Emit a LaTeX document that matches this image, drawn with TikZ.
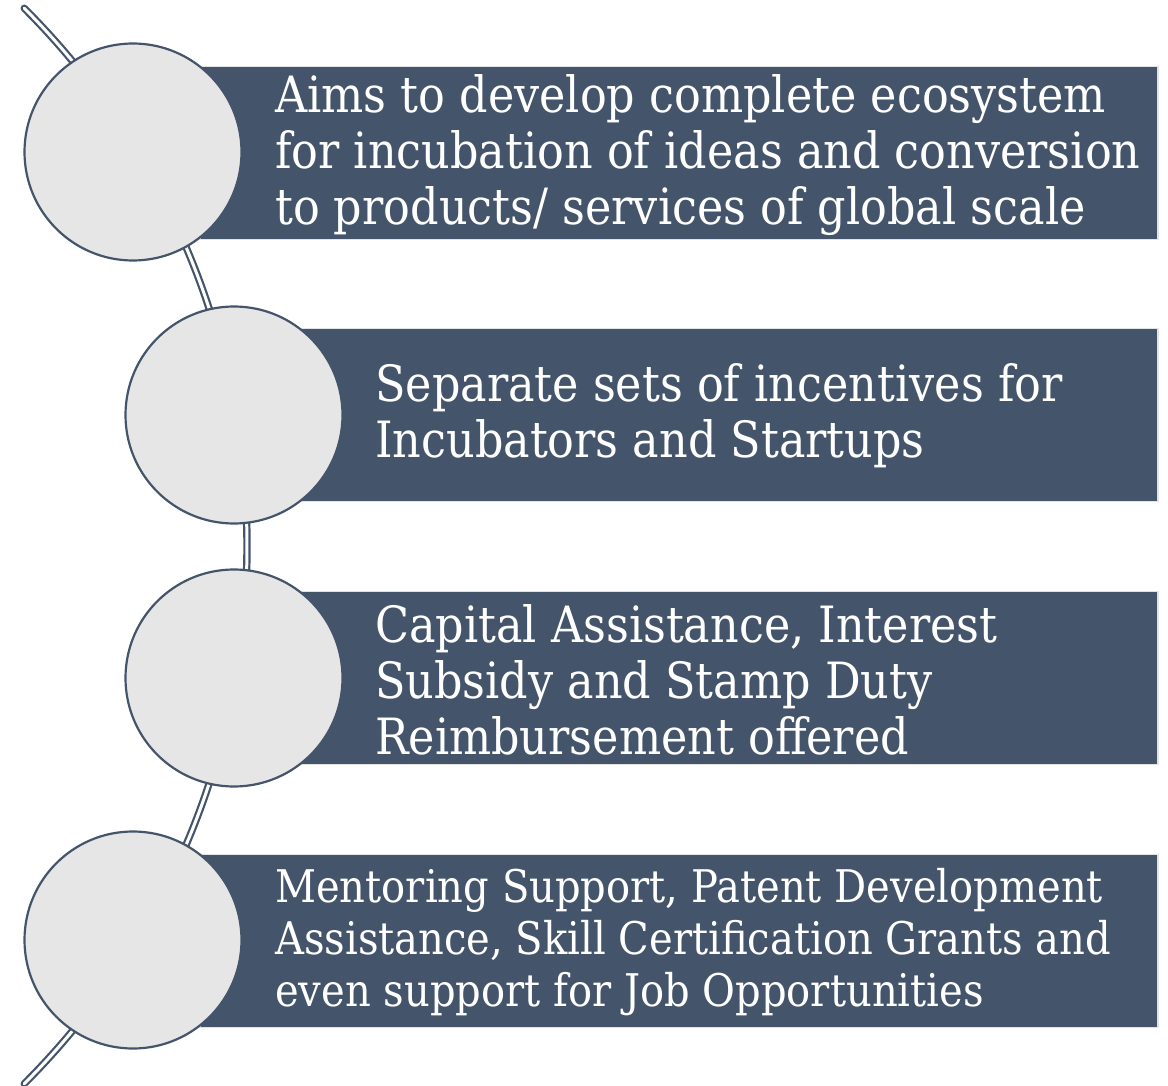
\documentclass[tikz,border=0pt]{standalone}
\usepackage{fontspec}
\setmainfont[FakeStretch=0.89]{DejaVu Serif}
\usetikzlibrary{calc}
\definecolor{slate}{HTML}{44546A}
\definecolor{pale}{HTML}{E7E6E6}
\begin{document}
\begin{tikzpicture}[x=1pt,y=-1pt, line join=round, line cap=round,
	panel/.style={fill=slate, draw=gray!22, line width=1.8pt, minimum height=173pt, inner sep=0pt},
	disc/.style={circle, fill=pale, draw=slate, line width=2.2pt, minimum size=217pt, inner sep=0pt},
	txt/.style={anchor=west, align=left, text=white, inner sep=0pt, font=\fontsize{50}{56}\selectfont}]
	\useasboundingbox (0,0) rectangle (1168,1086);
	\def\R{760.5}
	\coordinate (hub) at (-513.5,546);
	% spine behind the circles
	\draw[slate, line width=2.2pt, double=white, double distance=3pt]
		($(hub)+(-45:\R)$) arc[start angle=-45, end angle=45, radius=\R];
	% bars
	\node[panel, minimum width=958pt] (box1) at (679,153) {};
	\node[panel, minimum width=858pt] (box2) at (729,415) {};
	\node[panel, minimum width=858pt] (box3) at (729,678) {};
	\node[panel, minimum width=958pt] (box4) at (679,941) {};
	% circles
	\node[disc] (circ1) at (133,152) {};
	\node[disc] (circ2) at (234,415) {};
	\node[disc] (circ3) at (234,678) {};
	\node[disc] (circ4) at (133,940) {};
	% texts
	\node[txt] (t1) at (275,155) {Aims to develop complete ecosystem\\for incubation of ideas and conversion\\to products/ services of global scale};
	\node[txt] (t2) at (375,416) {Separate sets of incentives for\\Incubators and Startups};
	\node[txt] (t3) at (375,680) {Capital Assistance, Interest\\Subsidy and Stamp Duty\\Reimbursement offered};
	\node[txt, font=\fontsize{45}{52}\selectfont] (t4) at (275,942) {Mentoring Support, Patent Development\\Assistance, Skill Certification Grants and\\even support for Job Opportunities};
\end{tikzpicture}
\end{document}
